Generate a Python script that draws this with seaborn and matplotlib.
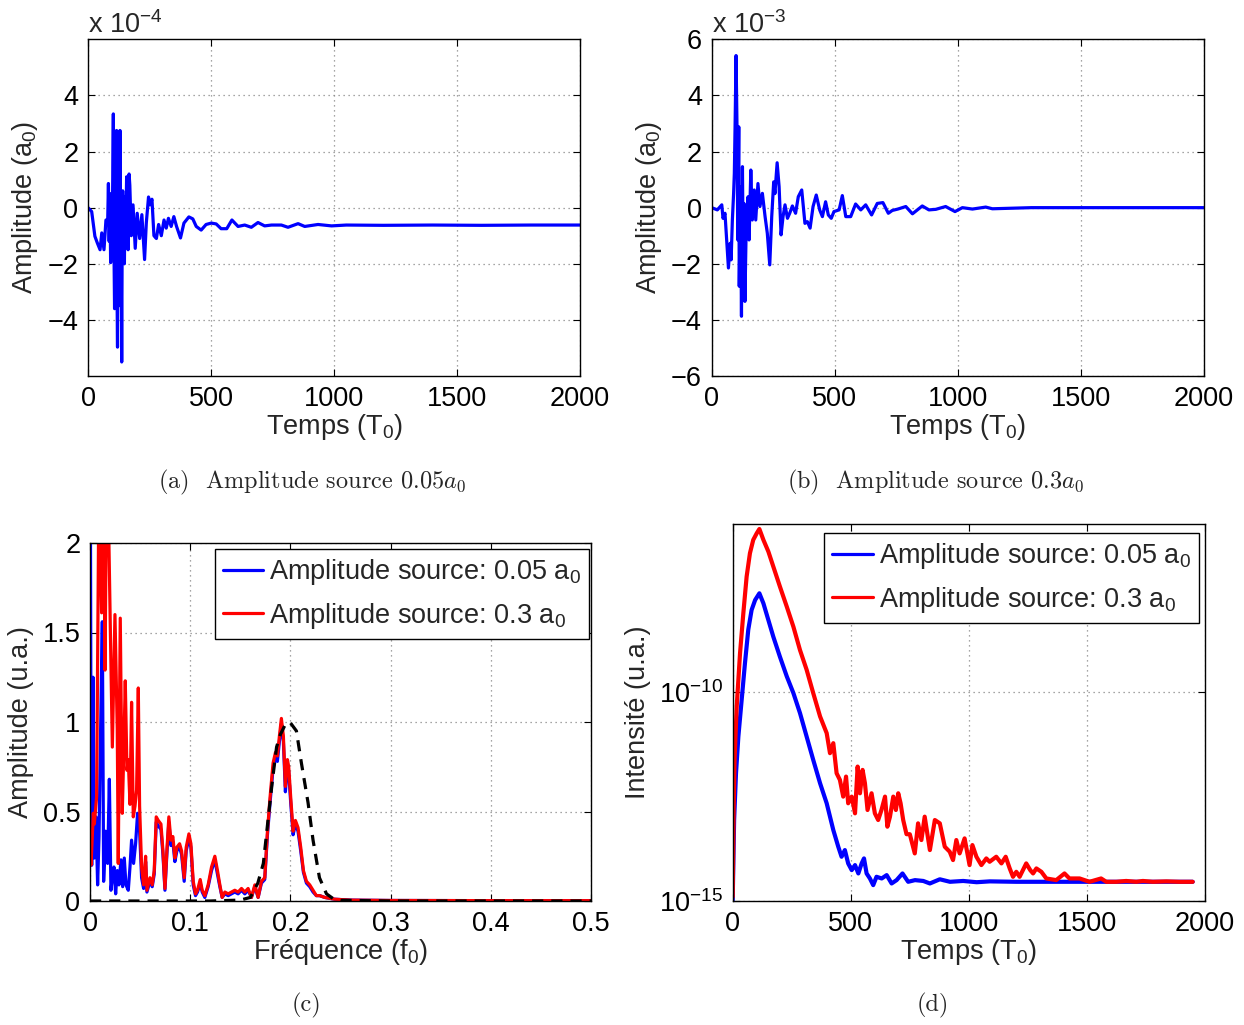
import numpy as np
import pandas as pd
import matplotlib
matplotlib.use("Agg")
import matplotlib.pyplot as plt
import seaborn as sns
from matplotlib.lines import Line2D
from matplotlib.ticker import FixedLocator, FuncFormatter

# ---------------- data ----------------
# (a) amplitude source 0.05 a0, units 1e-4
a_t = [0, 15, 28, 38, 49, 56, 65, 73, 80, 83, 86, 89, 92, 95, 98, 101, 103, 105, 108, 110, 112, 114, 116,
       118, 120, 122, 124, 126, 128, 130, 132, 134, 137, 139, 141, 143, 145, 148, 150, 153, 157, 160, 163,
       167, 170, 176, 183, 192, 200, 210, 219, 230, 237, 246, 252, 260, 268, 278, 287, 298, 309, 318, 327,
       338, 349, 360, 376, 390, 410, 426, 440, 460, 480, 501, 521, 541, 564, 585, 610, 637, 664, 691, 718,
       746, 786, 813, 854, 881, 935, 990, 1050, 1200, 1400, 1600, 1800, 2000]
a_y = [0, -0.14, -1.02, -1.26, -1.5, -0.9, -1.5, -0.44, -0.5, 0.86, -1.2, 0.5, -1.96, 0.2, -1.5, 1.5,
       3.34, -1.0, -3.6, 1.0, -2.5, 2.0, 2.75, -3.0, -4.97, 0.5, -2.0, 2.7, -1.5, 2.75, -3.5, 0.3, -5.5,
       -1.0, 0.6, -1.8, 0.4, -2.0, 0.2, -1.2, 1.1, -0.6, -1.5, 1.2, 0.8, -1.0, 0.1, -1.45, -0.2, -1.1, -0.25,
       -1.85, -0.55, 0.38, 0.1, 0.3, -1.0, -1.1, -0.6, -1.0, -0.44, -0.73, -0.38, -0.67, -0.32, -0.67,
       -1.08, -0.55, -0.33, -0.4, -0.67, -0.8, -0.6, -0.55, -0.58, -0.75, -0.75, -0.44, -0.67, -0.62,
       -0.7, -0.53, -0.65, -0.62, -0.62, -0.7, -0.57, -0.67, -0.6, -0.65, -0.62, -0.63, -0.62, -0.63,
       -0.62, -0.62]

# (b) amplitude source 0.3 a0, units 1e-3
b_t = [0, 23, 41, 46, 54, 68, 75, 79, 84, 89, 92, 95, 99, 103, 106, 110, 112, 117, 121, 125, 129, 131,
       135, 141, 148, 152, 159, 165, 173, 179, 188, 196, 206, 217, 226, 236, 244, 252, 257, 266, 274, 282,
       290, 298, 308, 317, 328, 341, 352, 366, 379, 389, 400, 412, 425, 439, 450, 463, 474, 486, 497, 518,
       531, 545, 565, 585, 606, 626, 650, 673, 696, 718, 734, 757, 789, 816, 856, 883, 911, 951, 989,
       1019, 1060, 1114, 1141, 1300, 1500, 1700, 2000]
b_y = [0, -0.08, 0.1, -0.38, -0.2, -2.15, -1.27, -1.86, -0.44, 0.5, 1.22, 2.88, 5.42, 2.76, -1.15, 2.88,
       -2.8, 0.75, -3.87, 1.46, -2.92, 0.15, -3.34, -0.32, 0.39, -1.15, 1.34, -0.44, 0.63, -0.44, 0.86,
       0.04, 0.51, -0.32, -0.91, -2.04, -0.32, 0.92, 0.5, 1.6, 0.75, -0.97, -0.32, 0.1, -0.38, -0.2, 0.06,
       -0.2, 0.39, 0.63, -0.56, -0.5, -0.73, 0.04, 0.45, -0.08, -0.32, 0.21, -0.26, -0.38, -0.14, -0.08,
       0.43, -0.32, -0.32, 0.13, -0.08, 0.1, -0.26, 0.15, 0.18, -0.2, -0.1, -0.05, 0.04, -0.22, 0.06,
       -0.08, -0.06, 0.04, -0.14, 0.0, -0.05, 0.02, -0.04, 0.0, 0.0, 0.0, 0.0]

# (c) spectra
c_f_red = [0.0, 0.001, 0.0033, 0.0043, 0.0066, 0.009, 0.0116, 0.0133, 0.015, 0.0166, 0.0183, 0.0203,
           0.0223, 0.0249, 0.0272, 0.0282, 0.0302, 0.0322, 0.0336, 0.0352, 0.0369, 0.0382, 0.0399, 0.0415,
           0.0432, 0.0449, 0.0465, 0.0482, 0.0495, 0.0515, 0.0535, 0.0555, 0.0568, 0.0598, 0.0621, 0.0641,
           0.0661, 0.0681, 0.0708, 0.0728, 0.0748, 0.0767, 0.0787, 0.0807, 0.0827, 0.0847, 0.0867, 0.0894,
           0.0914, 0.094, 0.096, 0.0987, 0.1007, 0.103, 0.1053, 0.1073, 0.11, 0.112, 0.1146, 0.1179, 0.1213,
           0.1246, 0.1272, 0.1296, 0.1319, 0.1346, 0.1379, 0.1412, 0.1445, 0.1478, 0.1512, 0.1545, 0.1578,
           0.1611, 0.1645, 0.1678, 0.1711, 0.1744, 0.1771, 0.1797, 0.1827, 0.1851, 0.187, 0.189, 0.191,
           0.193, 0.195, 0.197, 0.1983, 0.2003, 0.2027, 0.205, 0.2076, 0.2103, 0.213, 0.216, 0.2193, 0.2226,
           0.2259, 0.2292, 0.2342, 0.2442, 0.26, 0.3, 0.4, 0.5]
c_red = [0.3, 0.2, 0.49, 0.43, 0.58, 2.4, 1.61, 2.5, 1.29, 2.4, 2.2, 1.52, 0.86, 1.6, 0.96, 0.21, 1.58,
         0.49, 0.81, 1.23, 0.73, 0.79, 0.54, 1.11, 0.47, 0.53, 0.62, 1.19, 0.53, 0.19, 0.09, 0.25, 0.06,
         0.13, 0.09, 0.17, 0.47, 0.45, 0.43, 0.28, 0.07, 0.28, 0.47, 0.34, 0.36, 0.24, 0.30, 0.32, 0.28,
         0.13, 0.30, 0.375, 0.32, 0.11, 0.04, 0.06, 0.12, 0.06, 0.03, 0.09, 0.19, 0.25, 0.17, 0.09, 0.02,
         0.05, 0.04, 0.05, 0.06, 0.05, 0.07, 0.05, 0.07, 0.02, 0.09, 0.02, 0.11, 0.13, 0.39, 0.58, 0.77,
         0.83, 0.81, 0.92, 1.02, 0.92, 0.64, 0.79, 0.75, 0.58, 0.39, 0.45, 0.41, 0.30, 0.17, 0.11, 0.09,
         0.06, 0.03, 0.03, 0.02, 0.01, 0.005, 0.003, 0.002, 0.002]

c_f_blue = [0.0, 0.0003, 0.001, 0.0017, 0.003, 0.0043, 0.006, 0.0076, 0.009, 0.0106, 0.0123, 0.0136,
            0.0156, 0.0176, 0.0193, 0.0209, 0.0223, 0.0239, 0.0256, 0.0272, 0.0289, 0.0309, 0.0326, 0.0342,
            0.0359, 0.0382, 0.0399, 0.0415, 0.0435, 0.0455, 0.0475, 0.0495, 0.0515, 0.0535, 0.0555, 0.0568,
            0.0598, 0.0621, 0.0641, 0.0661, 0.0681, 0.0708, 0.0728, 0.0748, 0.0767, 0.0787, 0.0807, 0.0827,
            0.0847, 0.0867, 0.0894, 0.0914, 0.094, 0.096, 0.0987, 0.1007, 0.103, 0.1053, 0.1073, 0.11, 0.112,
            0.1146, 0.1179, 0.1213, 0.1246, 0.1272, 0.1296, 0.1319, 0.1346, 0.1379, 0.1412, 0.1445, 0.1478,
            0.1512, 0.1545, 0.1578, 0.1611, 0.1645, 0.1678, 0.1711, 0.1744, 0.1771, 0.1797, 0.1827, 0.1851,
            0.187, 0.189, 0.191, 0.193, 0.195, 0.197, 0.1983, 0.2003, 0.2027, 0.205, 0.2076, 0.2103, 0.213,
            0.216, 0.2193, 0.2226, 0.2259, 0.2292, 0.2342, 0.2442, 0.26, 0.3, 0.4, 0.5]
c_blue = [2.5, 2.5, 0.77, 0.2, 1.25, 0.24, 0.47, 0.09, 0.36, 0.96, 1.56, 0.11, 0.39, 0.21, 0.68, 0.06,
          0.13, 0.19, 0.04, 0.17, 0.09, 0.23, 0.08, 0.24, 0.09, 0.06, 0.19, 0.34, 0.21, 0.32, 0.49, 0.39,
          0.13, 0.07, 0.22, 0.05, 0.11, 0.08, 0.15, 0.44, 0.42, 0.40, 0.26, 0.06, 0.26, 0.44, 0.31, 0.33,
          0.22, 0.28, 0.30, 0.26, 0.11, 0.28, 0.35, 0.30, 0.09, 0.03, 0.05, 0.10, 0.05, 0.02, 0.08, 0.17,
          0.23, 0.15, 0.08, 0.02, 0.04, 0.03, 0.04, 0.05, 0.04, 0.06, 0.04, 0.06, 0.02, 0.08, 0.02, 0.10,
          0.12, 0.37, 0.55, 0.74, 0.80, 0.78, 0.89, 0.99, 0.89, 0.61, 0.76, 0.72, 0.55, 0.37, 0.43, 0.39,
          0.28, 0.16, 0.10, 0.08, 0.05, 0.03, 0.03, 0.02, 0.01, 0.005, 0.003, 0.002, 0.002]

c_f_ref = [0.0, 0.12, 0.15, 0.16, 0.1675, 0.173, 0.178, 0.182, 0.1862, 0.19, 0.1944, 0.1994, 0.206,
           0.211, 0.2176, 0.2226, 0.229, 0.236, 0.243, 0.25, 0.3, 0.5]
c_ref = [0.0, 0.0, 0.005, 0.02, 0.1, 0.21, 0.47, 0.67, 0.86, 0.93, 0.98, 1.0, 0.95, 0.77, 0.55, 0.34,
         0.13, 0.04, 0.012, 0.004, 0.0, 0.0]

# (d) intensity, log10 values
d_t_red = [0, 4, 8, 17, 31, 45, 59, 73, 87, 102, 113, 130, 151, 172, 200, 229, 257, 285, 313, 341, 370,
           398, 412, 426, 440, 454, 468, 480, 489, 504, 518, 529, 539, 550, 560, 571, 588, 602, 616, 630,
           645, 655, 666, 680, 691, 701, 711, 722, 736, 750, 771, 785, 799, 813, 835, 856, 877, 898, 919,
           933, 947, 961, 982, 1003, 1015, 1032, 1053, 1074, 1088, 1116, 1138, 1156, 1173, 1187, 1201, 1215,
           1243, 1260, 1272, 1286, 1307, 1328, 1349, 1370, 1405, 1426, 1469, 1511, 1560, 1582, 1624, 1666,
           1709, 1737, 1779, 1836, 1892, 1948]
d_log_red = [-14.9, -12.8, -11.6, -10.34, -9.07, -8.11, -7.23, -6.67, -6.35, -6.19, -6.09, -6.35, -6.63,
             -6.99, -7.47, -7.95, -8.43, -8.99, -9.46, -10.02, -10.58, -10.98, -11.46, -11.22, -11.94,
             -12.10, -12.5, -12.02, -12.66, -12.5, -12.9, -11.78, -12.42, -11.86, -12.18, -12.82, -12.42,
             -12.9, -13.06, -12.82, -12.5, -13.22, -12.98, -12.5, -12.82, -12.42, -12.66, -13.06, -13.4,
             -13.4, -13.86, -13.14, -13.54, -12.98, -13.78, -13.06, -13.14, -13.7, -13.82, -14.02, -13.54,
             -13.86, -13.5, -14.14, -13.66, -13.94, -14.14, -13.98, -14.06, -13.94, -14.1, -13.94, -14.22,
             -14.42, -14.3, -14.42, -14.1, -14.26, -14.34, -14.22, -14.3, -14.46, -14.48, -14.5, -14.34,
             -14.46, -14.46, -14.54, -14.46, -14.54, -14.54, -14.52, -14.54, -14.52, -14.54, -14.53, -14.54,
             -14.54]
d_t_blue = [0, 3, 6, 14, 24, 38, 52, 66, 80, 95, 113, 130, 151, 172, 200, 229, 257, 285, 313, 341, 370,
            398, 426, 447, 461, 475, 489, 504, 518, 532, 546, 556, 567, 581, 595, 609, 631, 652, 673, 694,
            719, 743, 772, 807, 835, 877, 920, 976, 1033, 1089, 1200, 1400, 1600, 1800, 1948]
d_log_blue = [-14.98, -14.0, -13.06, -11.94, -11.06, -10.18, -9.3, -8.5, -8.03, -7.79, -7.63, -7.87,
              -8.27, -8.67, -9.15, -9.62, -10.02, -10.5, -11.06, -11.62, -12.18, -12.66, -13.3, -13.7,
              -13.94, -13.78, -14.1, -14.26, -14.14, -14.34, -14.1, -13.98, -14.34, -14.46, -14.62, -14.42,
              -14.46, -14.38, -14.58, -14.5, -14.34, -14.54, -14.5, -14.52, -14.58, -14.48, -14.54, -14.52,
              -14.55, -14.53, -14.54, -14.54, -14.54, -14.54, -14.54]

legend_labels = ["Amplitude source: 0.05 a$_0$", "Amplitude source: 0.3 a$_0$"]
captions = [r"(a)  Amplitude source $0.05\mathit{a}_0$", r"(b)  Amplitude source $0.3\mathit{a}_0$",
            "(c)", "(d)"]

# ---------------- style ----------------
sns.set_style("ticks")
plt.rcParams["font.family"] = ["Liberation Sans", "DejaVu Sans"]
plt.rcParams["mathtext.fontset"] = "custom"
plt.rcParams["mathtext.rm"] = "Liberation Sans"
plt.rcParams["mathtext.it"] = "Liberation Sans:italic"
plt.rcParams["mathtext.default"] = "regular"
plt.rcParams["axes.unicode_minus"] = True

FS = 19.5
BLUE = "#0000ff"
RED = "#ff0000"

fig = plt.figure(figsize=(12.44, 10.25), dpi=100)
W, H = 1244.0, 1025.0


def add_ax(l, t, r, b):
    return fig.add_axes([l / W, 1 - b / H, (r - l) / W, (b - t) / H])


def style(ax):
    ax.tick_params(direction="in", length=5, width=0.8, top=True, right=True,
                   labelsize=FS, pad=7, colors="black")
    for s in ax.spines.values():
        s.set_linewidth(1.0)
        s.set_color("black")
    ax.grid(True, linestyle=(0, (1, 3)), color="#888888", linewidth=0.9)
    ax.set_axisbelow(True)


ax_a = add_ax(88, 39.3, 580, 376)
ax_b = add_ax(711.7, 39.3, 1203.7, 376)
ax_c = add_ax(90, 543, 591, 901)
ax_d = add_ax(732.7, 524, 1205, 901)

# (a)
sns.lineplot(x=a_t, y=a_y, ax=ax_a, color=BLUE, lw=2.3, estimator=None, sort=False)
ax_a.set_xlim(0, 2000)
ax_a.set_ylim(-6, 6)
ax_a.set_yticks([-4, -2, 0, 2, 4])
ax_a.set_xticks([0, 500, 1000, 1500, 2000])
ax_a.text(0.0, 1.0, "x 10$^{-4}$", transform=ax_a.transAxes, ha="left", va="bottom", fontsize=FS)

# (b)
sns.lineplot(x=b_t, y=b_y, ax=ax_b, color=BLUE, lw=2.3, estimator=None, sort=False)
ax_b.set_xlim(0, 2000)
ax_b.set_ylim(-6, 6)
ax_b.set_yticks([-6, -4, -2, 0, 2, 4, 6])
ax_b.set_xticks([0, 500, 1000, 1500, 2000])
ax_b.text(0.0, 1.0, "x 10$^{-3}$", transform=ax_b.transAxes, ha="left", va="bottom", fontsize=FS)

for ax in (ax_a, ax_b):
    style(ax)
    ax.set_xlabel("Temps (T$_0$)", fontsize=FS, labelpad=0)
    ax.set_ylabel("Amplitude (a$_0$)", fontsize=FS, labelpad=5)

# (c)
sns.lineplot(x=c_f_blue, y=c_blue, ax=ax_c, color=BLUE, lw=2.3, estimator=None, sort=False)
sns.lineplot(x=c_f_red, y=c_red, ax=ax_c, color=RED, lw=2.3, estimator=None, sort=False)
ax_c.plot(c_f_ref, c_ref, color="black", lw=2.3, linestyle=(0, (3.5, 2.5)))
ax_c.set_xlim(0, 0.5)
ax_c.set_ylim(0, 2)
ax_c.set_xticks([0, 0.1, 0.2, 0.3, 0.4, 0.5])
ax_c.set_yticks([0, 0.5, 1, 1.5, 2])
ax_c.xaxis.set_major_formatter(FuncFormatter(lambda v, p: f"{v:g}"))
ax_c.yaxis.set_major_formatter(FuncFormatter(lambda v, p: f"{v:g}"))
style(ax_c)
ax_c.set_xlabel("Fréquence (f$_0$)", fontsize=FS, labelpad=0)
ax_c.set_ylabel("Amplitude (u.a.)", fontsize=FS, labelpad=6)

# (d)
sns.lineplot(x=d_t_blue, y=[10.0 ** v for v in d_log_blue], ax=ax_d, color=BLUE, lw=3.0,
             estimator=None, sort=False)
sns.lineplot(x=d_t_red, y=[10.0 ** v for v in d_log_red], ax=ax_d, color=RED, lw=3.0,
             estimator=None, sort=False)
ax_d.set_yscale("log")
ax_d.set_xlim(0, 2000)
ax_d.set_ylim(1e-15, 10 ** -5.97)
ax_d.yaxis.set_major_locator(FixedLocator([1e-15, 1e-10]))
ax_d.yaxis.set_minor_locator(FixedLocator([]))
ax_d.set_xticks([0, 500, 1000, 1500, 2000])
style(ax_d)
ax_d.set_xlabel("Temps (T$_0$)", fontsize=FS, labelpad=0)
ax_d.set_ylabel("Intensité (u.a.)", fontsize=FS, labelpad=6)

handles = [Line2D([], [], color=BLUE, lw=2.3), Line2D([], [], color=RED, lw=2.3)]
for ax, anchor in ((ax_c, (0.996, 0.983)), (ax_d, (0.987, 0.976))):
    leg = ax.legend(handles, legend_labels, loc="upper right", bbox_to_anchor=anchor,
                    borderaxespad=0, fontsize=FS, frameon=True, fancybox=False,
                    handlelength=1.5, handletextpad=0.2, labelspacing=0.5,
                    borderpad=0.3)
    leg.get_frame().set_edgecolor("black")
    leg.get_frame().set_linewidth(1.0)
    leg.get_frame().set_alpha(1)

# captions
cap_kw = dict(family="cmr10", math_fontfamily="cm", fontsize=17.5, ha="center", va="center")
fig.text(312 / W, 1 - 482 / H, captions[0], **cap_kw)
fig.text(936 / W, 1 - 482 / H, captions[1], **cap_kw)
fig.text(307 / W, 1 - 1005 / H, captions[2], **cap_kw)
fig.text(933 / W, 1 - 1005 / H, captions[3], **cap_kw)

fig.savefig("out.png", dpi=100)
